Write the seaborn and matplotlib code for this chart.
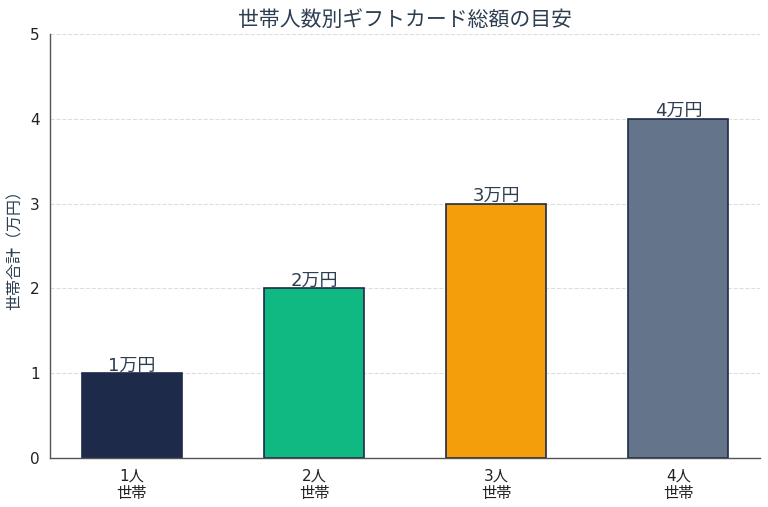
import matplotlib
matplotlib.use("Agg")
import matplotlib.pyplot as plt
import seaborn as sns
import pandas as pd

categories = ["1人\n世帯", "2人\n世帯", "3人\n世帯", "4人\n世帯"]
values = [1, 2, 3, 4]
bar_labels = ["1万円", "2万円", "3万円", "4万円"]
colors = ["#1e2a4a", "#10b981", "#f59e0b", "#64748b"]

sns.set_theme(style="white")
plt.rcParams['font.family'] = ['DejaVu Sans', 'Noto Sans CJK JP']

df = pd.DataFrame({"cat": categories, "val": values})

fig = plt.figure(figsize=(7.68, 5.07), dpi=100)
ax = fig.add_axes([0.065, 0.097, 0.925, 0.836])

sns.barplot(data=df, x="cat", y="val", hue="cat", palette=colors, legend=False,
            width=0.55, edgecolor="#1e2a4a", linewidth=1.2, saturation=1, ax=ax)

for c, lab in zip(ax.containers, bar_labels):
    ax.bar_label(c, labels=[lab], padding=-1, fontsize=13, color="#2c3e50")

ax.set_xlim(-0.45, 3.45)
ax.set_ylim(0, 5)
ax.set_yticks([0, 1, 2, 3, 4, 5])
ax.set_title("世帯人数別ギフトカード総額の目安", fontsize=15, color="#2c3e50", pad=6,
             family=['Noto Sans CJK JP', 'DejaVu Sans'])
ax.set_ylabel("世帯合計（万円）", fontsize=11.5, color="#2c3e50",
              family=['Noto Sans CJK JP', 'DejaVu Sans'])
ax.set_xlabel("")
ax.tick_params(axis="both", labelsize=11, colors="#222222", length=4)
ax.tick_params(axis="x", length=4, color="#555555")
ax.tick_params(axis="y", length=4, color="#555555")
ax.yaxis.grid(True, linestyle="--", color="#dddddd", linewidth=0.8)
ax.set_axisbelow(True)
sns.despine(ax=ax)
for s in ["left", "bottom"]:
    ax.spines[s].set_color("#555555")
    ax.spines[s].set_linewidth(1.0)

fig.savefig("out.png", dpi=100)
